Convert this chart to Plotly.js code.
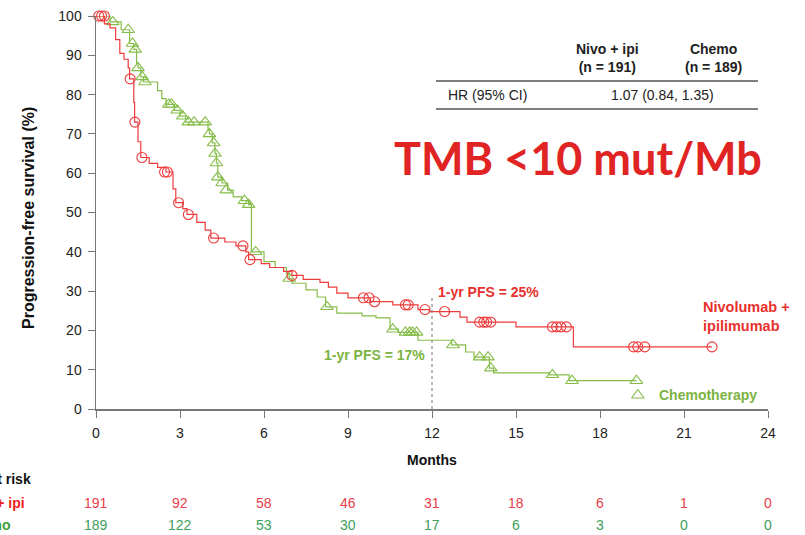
<!DOCTYPE html>
<html>
<head>
<meta charset="utf-8">
<script src="https://cdn.plot.ly/plotly-3.0.1.min.js"></script>
<style>html,body{margin:0;padding:0;background:#fff;}#chart{width:805px;height:535px;}</style>
</head>
<body>
<div id="chart"></div>
<script>
// Nivolumab + ipilimumab step curve
const nivoTime = [0, 0.3, 0.5, 0.7, 0.85, 1.0, 1.15, 1.2, 1.35, 1.38, 1.5, 1.6, 1.9, 2.2, 2.5, 2.75, 2.85, 3.1, 3.25, 3.6, 3.9, 4.1, 4.6, 5.0, 5.35, 5.45, 5.9, 6.2, 6.7, 7.0, 7.4, 8.0, 8.3, 8.6, 9.0, 9.8, 10.6, 11.5, 11.9, 13.0, 13.25, 15.0, 17.05, 22.0];
const nivoPFS  = [100, 98, 97, 94, 90.5, 89, 86.8, 84, 78, 73, 68, 64, 62.5, 61.5, 60.3, 56, 52.5, 51, 49.5, 47.5, 45.5, 43.5, 42.5, 41.5, 40, 38, 37, 36, 35, 34, 33, 32.2, 31, 29.5, 28.3, 27.3, 26.5, 25.3, 24.8, 23.4, 22.1, 20.9, 15.8, 15.8];
const nivoCensT = [0.1, 0.2, 0.3, 1.22, 1.39, 1.64, 2.45, 2.55, 2.95, 3.3, 4.2, 5.25, 5.5, 7.0, 9.55, 9.75, 9.95, 11.05, 11.15, 11.75, 12.45, 13.7, 13.85, 13.95, 14.1, 16.3, 16.45, 16.6, 16.8, 19.2, 19.35, 19.6, 22.0];
const nivoCensV = [100, 100, 100, 84, 73, 64, 60.3, 60.3, 52.5, 49.5, 43.5, 41.5, 38, 34, 28.3, 28.3, 27.3, 26.5, 26.5, 25.3, 24.8, 22.1, 22.1, 22.1, 22.1, 20.9, 20.9, 20.9, 20.9, 15.8, 15.8, 15.8, 15.8];

// Chemotherapy step curve
const chemoTime = [0, 0.5, 0.9, 1.2, 1.35, 1.45, 1.5, 1.6, 1.7, 2.2, 2.35, 2.5, 2.8, 3.0, 3.2, 4.0, 4.05, 4.15, 4.25, 4.3, 4.35, 4.5, 4.7, 4.9, 5.2, 5.45, 5.55, 6.0, 6.4, 6.8, 6.9, 7.0, 7.5, 7.9, 8.2, 8.6, 9.5, 10.0, 10.5, 10.8, 11.5, 12.7, 13.2, 13.5, 14.05, 14.2, 16.2, 16.9, 19.3];
const chemoPFS  = [100, 98.5, 96.5, 93, 91.5, 88, 86.8, 84.5, 83.2, 81, 79, 77.5, 76, 74.5, 73, 71, 70, 67.7, 65, 62.6, 59, 57.5, 55.7, 54, 53, 52, 40, 37.5, 36, 34.5, 33.2, 32, 30.3, 28.5, 26, 24.4, 23.7, 23.2, 20.3, 19.5, 17.5, 16.3, 14.5, 13.2, 10.4, 9.2, 8.7, 7.2, 7.2];
const chemoCensT = [0.6, 1.15, 1.3, 1.4, 1.5, 1.65, 1.75, 2.6, 2.7, 2.9, 3.1, 3.3, 3.5, 3.9, 4.05, 4.2, 4.25, 4.3, 4.35, 4.5, 4.65, 5.3, 5.45, 5.7, 6.9, 8.25, 10.6, 11.05, 11.2, 11.3, 11.45, 12.75, 13.7, 14.0, 14.1, 16.3, 17.0, 19.3, 19.35];
const chemoCensV = [98.5, 96.5, 93, 91.5, 86.8, 84.5, 83.2, 77.5, 77.5, 76, 74.5, 73, 73, 73, 70, 67.7, 65, 62.6, 59, 57.5, 55.7, 53, 52, 40, 33.2, 26, 20.3, 19.5, 19.5, 19.5, 19.5, 16.3, 13.2, 13.2, 10.4, 8.7, 7.2, 7.2, 3.5];

// Numbers at risk
const riskMonths = [0, 3, 6, 9, 12, 15, 18, 21, 24];
const riskNivo = [191, 92, 58, 46, 31, 18, 6, 1, 0];
const riskChemo = [189, 122, 53, 30, 17, 6, 3, 0, 0];

const RED = '#ee3b3b';
const GREEN = '#86bd4a';
const RED_TXT = '#e8302c';
const GREEN_TXT = '#7cb342';
const FONT = 'Liberation Sans, Arial, sans-serif';

const traces = [
  {x: chemoTime, y: chemoPFS, type: 'scatter', mode: 'lines', line: {shape: 'hv', color: GREEN, width: 1.2}, hoverinfo: 'skip', cliponaxis: false},
  {x: chemoCensT, y: chemoCensV, type: 'scatter', mode: 'markers', marker: {symbol: 'triangle-up-open', size: 11, color: GREEN, line: {width: 1.1, color: GREEN}}, cliponaxis: false},
  {x: nivoTime, y: nivoPFS, type: 'scatter', mode: 'lines', line: {shape: 'hv', color: RED, width: 1.2}, hoverinfo: 'skip', cliponaxis: false},
  {x: nivoCensT, y: nivoCensV, type: 'scatter', mode: 'markers', marker: {symbol: 'circle-open', size: 10, color: RED, line: {width: 1.1, color: RED}}, cliponaxis: false}
];

const annotations = [];
function px2x(px) { return (px - 96) / 672; }
function px2y(py) { return (409 - py) / 393; }

riskMonths.forEach((m, i) => {
  annotations.push({x: m, xref: 'x', y: px2y(503), yref: 'paper', text: String(riskNivo[i]), showarrow: false, font: {family: FONT, size: 14, color: '#e8404a'}, xanchor: 'center', yanchor: 'middle'});
  annotations.push({x: m, xref: 'x', y: px2y(525), yref: 'paper', text: String(riskChemo[i]), showarrow: false, font: {family: FONT, size: 14, color: '#3e9e5a'}, xanchor: 'center', yanchor: 'middle'});
});

annotations.push(
  {x: px2x(33), y: px2y(479), xref: 'paper', yref: 'paper', text: '<b>No. at risk</b>', showarrow: false, xanchor: 'right', yanchor: 'middle', font: {family: FONT, size: 14, color: '#111'}},
  {x: px2x(27), y: px2y(503), xref: 'paper', yref: 'paper', text: '<b>Nivo + ipi</b>', showarrow: false, xanchor: 'right', yanchor: 'middle', font: {family: FONT, size: 14, color: '#ee2020'}},
  {x: px2x(12), y: px2y(525), xref: 'paper', yref: 'paper', text: '<b>Chemo</b>', showarrow: false, xanchor: 'right', yanchor: 'middle', font: {family: FONT, size: 14, color: '#3e9e3a'}},
  {x: 0.5, y: px2y(460), xref: 'paper', yref: 'paper', text: '<b>Months</b>', showarrow: false, xanchor: 'center', yanchor: 'middle', font: {family: FONT, size: 14, color: '#111'}},
  {x: px2x(28), y: px2y(218), xref: 'paper', yref: 'paper', text: '<b>Progression-free survival (%)</b>', textangle: -90, showarrow: false, xanchor: 'center', yanchor: 'middle', font: {family: FONT, size: 16, color: '#111'}},
  // table
  {x: px2x(607), y: px2y(58), xref: 'paper', yref: 'paper', text: '<b>Nivo + ipi<br>(n = 191)</b>', showarrow: false, xanchor: 'center', yanchor: 'middle', align: 'center', font: {family: FONT, size: 14, color: '#222'}},
  {x: px2x(713), y: px2y(58), xref: 'paper', yref: 'paper', text: '<b>Chemo<br>(n = 189)</b>', showarrow: false, xanchor: 'center', yanchor: 'middle', align: 'center', font: {family: FONT, size: 14, color: '#222'}},
  {x: px2x(446), y: px2y(95), xref: 'paper', yref: 'paper', text: 'HR (95% CI)', showarrow: false, xanchor: 'left', yanchor: 'middle', font: {family: FONT, size: 14, color: '#222'}},
  {x: px2x(662), y: px2y(95), xref: 'paper', yref: 'paper', text: '1.07 (0.84, 1.35)', showarrow: false, xanchor: 'center', yanchor: 'middle', font: {family: FONT, size: 14, color: '#222'}},
  // big label
  {x: px2x(578), y: px2y(158), xref: 'paper', yref: 'paper', text: '<b>TMB &lt;10 mut/Mb</b>', showarrow: false, xanchor: 'center', yanchor: 'middle', font: {family: 'Lato, Open Sans, sans-serif', size: 45, color: '#e02424'}},
  // curve labels
  {x: 14.0, y: 29.8, xref: 'x', yref: 'y', text: '<b>1-yr PFS = 25%</b>', showarrow: false, xanchor: 'center', yanchor: 'middle', font: {family: FONT, size: 14, color: RED_TXT}},
  {x: 9.93, y: 13.7, xref: 'x', yref: 'y', text: '<b>1-yr PFS = 17%</b>', showarrow: false, xanchor: 'center', yanchor: 'middle', font: {family: FONT, size: 14, color: GREEN_TXT}},
  {x: 21.6, y: 23.6, xref: 'x', yref: 'y', text: '<b>Nivolumab +<br>ipilimumab</b>', showarrow: false, xanchor: 'left', yanchor: 'middle', align: 'left', font: {family: FONT, size: 14.5, color: RED_TXT}},
  {x: 20.05, y: 3.6, xref: 'x', yref: 'y', text: '<b>Chemotherapy</b>', showarrow: false, xanchor: 'left', yanchor: 'middle', font: {family: FONT, size: 14, color: GREEN_TXT}}
);

const shapes = [
  {type: 'line', xref: 'paper', yref: 'paper', x0: px2x(436), x1: px2x(758), y0: px2y(81), y1: px2y(81), line: {color: '#555', width: 1.3}},
  {type: 'line', xref: 'paper', yref: 'paper', x0: px2x(436), x1: px2x(758), y0: px2y(109), y1: px2y(109), line: {color: '#555', width: 1.3}},
  {type: 'line', xref: 'x', yref: 'y', x0: 12, x1: 12, y0: 0, y1: 29, line: {color: '#777', width: 1, dash: 'dot'}}
];

const layout = {
  width: 805, height: 535,
  margin: {l: 96, r: 37, t: 16, b: 126},
  paper_bgcolor: '#fff', plot_bgcolor: '#fff',
  showlegend: false,
  xaxis: {range: [0, 24], tickvals: riskMonths, ticks: 'outside', ticklen: 7, tickcolor: '#777', ticklabelstandoff: 4, showline: true, linecolor: '#777', linewidth: 1.5, showgrid: false, zeroline: false, tickfont: {family: FONT, size: 14, color: '#222'}, fixedrange: true},
  yaxis: {range: [0, 100], tickvals: [0,10,20,30,40,50,60,70,80,90,100], ticks: 'outside', ticklen: 7, tickcolor: '#777', ticklabelstandoff: 3, showline: true, linecolor: '#777', linewidth: 1.5, showgrid: false, zeroline: false, tickfont: {family: FONT, size: 14, color: '#222'}, fixedrange: true},
  annotations: annotations,
  shapes: shapes
};

Plotly.newPlot('chart', traces, layout, {displayModeBar: false, staticPlot: true});
</script>
</body>
</html>
